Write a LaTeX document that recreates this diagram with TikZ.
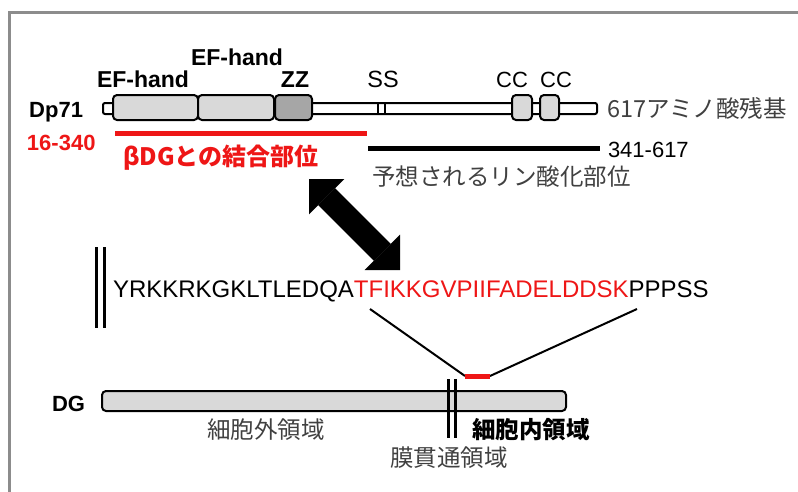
\documentclass[tikz,border=0pt]{standalone}
\usepackage{fontspec}
\setmainfont{Liberation Sans}
\newfontfamily\jp{Noto Sans CJK JP}
\usetikzlibrary{arrows.meta}
\definecolor{myred}{RGB}{238,22,22}
\definecolor{txtgray}{RGB}{64,64,64}
\definecolor{boxgray}{RGB}{217,217,217}
\definecolor{zzgray}{RGB}{166,166,166}
\definecolor{framegray}{RGB}{140,140,140}
\begin{document}
\begin{tikzpicture}[x=1pt,y=-1pt,
  lbl/.style={inner sep=0pt,outer sep=0pt,font=\fontsize{22}{24}\selectfont},
  blbl/.style={lbl,font=\fontsize{22}{24}\selectfont\bfseries},
  jlbl/.style={inner sep=0pt,outer sep=0pt,text=txtgray,font=\jp\fontsize{23.5}{26}\selectfont},
  dombox/.style={draw=black,line width=2pt,rounded corners=4pt,fill=boxgray,inner sep=0pt,outer sep=0pt,minimum height=25pt},
  thinbar/.style={draw=black,line width=2pt,rounded corners=2pt,fill=white,inner sep=0pt,outer sep=0pt},
  conn/.style={draw=black,line width=2pt},
  dbl/.style={draw=black,line width=3pt}]
\useasboundingbox (0,0) rectangle (798,491);
% frame
\draw[framegray,line width=3pt] (9,495) -- (9,12.5) -- (802,12.5);

% Dp71 protein
\node[thinbar,minimum width=494pt,minimum height=11pt] (bar) at (350,108.5) {};
\node[dombox,minimum width=85pt] (ef1) at (155.5,107.5) {};
\node[dombox,minimum width=76pt] (ef2) at (236,107.5) {};
\node[dombox,minimum width=37pt,fill=zzgray] (zz) at (293.5,107.5) {};
\node[dombox,minimum width=20pt] (cc1) at (522,107.5) {};
\node[dombox,minimum width=19pt] (cc2) at (549.5,107.5) {};
\draw[line width=1.6pt] (378,103) -- (378,114);
\draw[line width=1.6pt] (385,103) -- (385,114);

\node[blbl,anchor=base east] (dp71) at (83,117) {Dp71};
\node[blbl,anchor=base,font=\fontsize{23}{25}\selectfont\bfseries] (efl) at (143,87) {EF-hand};
\node[blbl,anchor=base,font=\fontsize{23}{25}\selectfont\bfseries] (efu) at (237,65) {EF-hand};
\node[blbl,anchor=base,font=\fontsize{23}{25}\selectfont\bfseries] (zzl) at (295,87) {ZZ};
\node[lbl,anchor=base,font=\fontsize{23.5}{25}\selectfont] (ssl) at (383,87) {SS};
\node[lbl,anchor=base] (cc1l) at (512,87) {CC};
\node[lbl,anchor=base] (cc2l) at (556,87) {CC};
\node[jlbl,anchor=base west] (len) at (607,117) {617アミノ酸残基};

% binding region
\draw[myred,line width=5pt] (115,133) -- (367,133);
\node[blbl,anchor=base west,text=myred] (r1) at (27,150) {16-340};
\node[jlbl,anchor=base west,text=myred,font=\jp\bfseries\fontsize{24}{26}\selectfont] (bdg) at (123,165) {βDGとの結合部位};

% phosphorylation region
\draw[black,line width=5pt] (368,148) -- (600,148);
\node[lbl,anchor=base west] (r2) at (608,157) {341-617};
\node[jlbl,anchor=base west] (phos) at (372,185) {予想されるリン酸化部位};

% double arrow
\coordinate (a1) at (309,179);
\coordinate (a2) at (400,270);
\draw[line width=24pt,{Triangle[length=25pt,width=50pt,line width=0pt]}-{Triangle[length=25pt,width=50pt,line width=0pt]}] (a1) -- (a2);

% sequence
\draw[dbl] (96,247) -- (96,328);
\draw[dbl] (104,247) -- (104,328);
\node[inner sep=0pt,outer sep=0pt,anchor=base west,font=\fontsize{24}{28}\selectfont] (seq) at (113,297) {YRKKRKGKLTLEDQA\textcolor{myred}{TFIKKGVPIIFADELDDSK}PPPSS};

\coordinate (s1) at (370,309);
\coordinate (s2) at (637,309);
\coordinate (rs) at (465,376);
\coordinate (re) at (490,376);
\draw[conn] (s1) -- (rs);
\draw[conn] (s2) -- (re);
\draw[myred,line width=5pt] (rs) -- (re);

% DG
\node[thinbar,fill=boxgray,rounded corners=4pt,minimum width=464pt,minimum height=20pt] (dg) at (334,401) {};
\draw[dbl] (448,379) -- (448,438);
\draw[dbl] (455,379) -- (455,438);
\node[blbl,anchor=base west] (dgl) at (52,411) {DG};
\node[jlbl,anchor=base] (extra) at (266,438) {細胞外領域};
\node[jlbl,anchor=base,text=black,font=\jp\bfseries\fontsize{23.5}{26}\selectfont] (intra) at (531,438) {細胞内領域};
\node[jlbl,anchor=base] (tm) at (449,466) {膜貫通領域};
\end{tikzpicture}
\end{document}
